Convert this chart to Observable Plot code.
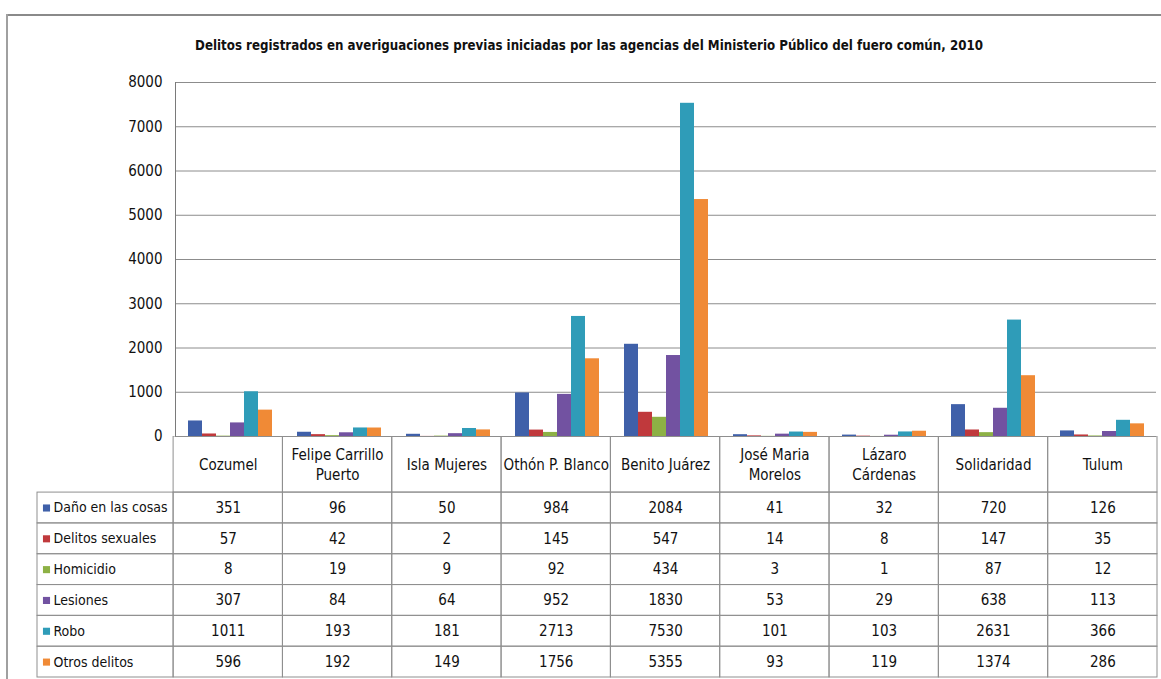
<!DOCTYPE html>
<html><head><meta charset="utf-8">
<script src="https://cdn.jsdelivr.net/npm/d3@7"></script>
<script src="https://cdn.jsdelivr.net/npm/@observablehq/plot@0.6"></script>
<style>
body{margin:0;background:#fff;}
#wrap{position:relative;width:1161px;height:679px;overflow:hidden;background:#fff;}
#frameTop{position:absolute;left:6px;top:14px;width:1155px;height:0;border-top:2px solid #8a8a8a;}
#frameLeft{position:absolute;left:6px;top:14px;width:0;height:665px;border-left:2px solid #a0a0a0;}
#title{position:absolute;left:0;top:0;}
#bars{position:absolute;left:0;top:60px;}
#table{position:absolute;left:0;top:436px;}
</style></head>
<body><div id="wrap">
<div id="frameTop"></div><div id="frameLeft"></div>
<svg id="title" width="1161" height="60"><text id="titleText" x="589" y="50" text-anchor="middle" font-family="'Liberation Sans Narrow','Arial Narrow','DejaVu Sans Condensed',sans-serif" font-weight="bold" font-size="19" fill="#111"></text></svg>
<div id="bars"></div><div id="table"></div>
</div>
<script>
const titleText = "Delitos registrados en averiguaciones previas iniciadas por las agencias del Ministerio Público del fuero común, 2010";
const categories = ["Cozumel","Felipe Carrillo Puerto","Isla Mujeres","Othón P. Blanco","Benito Juárez","José Maria Morelos","Lázaro Cárdenas","Solidaridad","Tulum"];
const categoryLabels = ["Cozumel","Felipe Carrillo\nPuerto","Isla Mujeres","Othón P. Blanco","Benito Juárez","José Maria\nMorelos","Lázaro\nCárdenas","Solidaridad","Tulum"];
const series = ["Daño en las cosas","Delitos sexuales","Homicidio","Lesiones","Robo","Otros delitos"];
const danoEnLasCosas = [351,96,50,984,2084,41,32,720,126];
const delitosSexuales = [57,42,2,145,547,14,8,147,35];
const homicidio = [8,19,9,92,434,3,1,87,12];
const lesiones = [307,84,64,952,1830,53,29,638,113];
const robo = [1011,193,181,2713,7530,101,103,2631,366];
const otrosDelitos = [596,192,149,1756,5355,93,119,1374,286];
const yTicks = [0,1000,2000,3000,4000,5000,6000,7000,8000];
const colors = ["#3f60a9","#c0393c","#8db145","#7252a1","#2f9cb8","#f08a36"];

// title: fit the font size so the line spans about 788px
const tEl = document.getElementById("titleText");
tEl.textContent = titleText;
const natural = tEl.getComputedTextLength();
if (natural > 0) tEl.setAttribute("font-size", (19 * 788 / natural).toFixed(2));

const FONT = "'Liberation Sans Narrow','Arial Narrow','DejaVu Sans Condensed',sans-serif";
const FS = 15;
const seriesValues = [danoEnLasCosas, delitosSexuales, homicidio, lesiones, robo, otrosDelitos];
const rows = [];
series.forEach((s, si) => seriesValues[si].forEach((v, ci) =>
  rows.push({category: categories[ci], series: s, value: v, ci, si})));

const colorScale = {domain: series, range: colors};

const bars = Plot.plot({
  width: 1161, height: 386,
  marginTop: 22, marginBottom: 10, marginLeft: 173, marginRight: 4,
  style: {fontFamily: FONT, fontSize: FS + "px", color: "#111", background: "transparent"},
  fx: {domain: categories, padding: 0, axis: null},
  x: {domain: series, paddingInner: 0, paddingOuter: 0.75, axis: null},
  y: {domain: [0, 8000], label: null},
  color: colorScale,
  marks: [
    Plot.ruleY(yTicks, {stroke: "#8c8c8c", strokeWidth: 1}),
    Plot.barY(rows, {fx: "category", x: "series", y: "value", fill: "series"}),
    Plot.axisY(yTicks, {tickSize: 0, tickPadding: 13, fontSize: FS, tickFormat: d3.format("d"), label: null}),
    Plot.frame({anchor: "left", facetAnchor: "left", stroke: "#7a7a7a"})
  ]
});
document.getElementById("bars").appendChild(bars);

// table drawn with Plot: x in category units, y in row units (layout constants)
const LABEL_COL = 1.245;   // width of the legend column, in category widths
const HEADER_ROW = 1.82;   // height of the header row, in row heights
const idx = c => categories.indexOf(c);
const sidx = s => series.indexOf(s);
const gridStroke = "#8f8f8f";

const table = Plot.plot({
  width: 1161, height: 242,
  marginTop: 0, marginBottom: 1, marginLeft: 37, marginRight: 4,
  style: {fontFamily: FONT, fontSize: FS + "px", color: "#111", background: "transparent"},
  x: {type: "linear", domain: [-LABEL_COL, categories.length], axis: null},
  y: {type: "linear", domain: [0, HEADER_ROW + series.length], reverse: true, axis: null},
  color: colorScale,
  marks: [
    Plot.rect(categories, {x1: d => idx(d), x2: d => idx(d) + 1, y1: () => 0, y2: () => HEADER_ROW, stroke: gridStroke, fill: "none"}),
    Plot.rect(rows, {x1: d => d.ci, x2: d => d.ci + 1, y1: d => HEADER_ROW + d.si, y2: d => HEADER_ROW + d.si + 1, stroke: gridStroke, fill: "none"}),
    Plot.rect(series, {x1: () => -LABEL_COL, x2: () => 0, y1: d => HEADER_ROW + sidx(d), y2: d => HEADER_ROW + sidx(d) + 1, stroke: gridStroke, fill: "none"}),
    Plot.text(categories, {x: d => idx(d) + 0.5, y: () => HEADER_ROW / 2, dy: -1, text: (d, i) => categoryLabels[i], lineHeight: 1.35, fontSize: FS, fill: "#111"}),
    Plot.text(rows, {x: d => d.ci + 0.5, y: d => HEADER_ROW + d.si + 0.5, text: d => String(d.value), fontSize: FS, fill: "#111"}),
    Plot.dot(series, {x: () => -LABEL_COL, y: d => HEADER_ROW + sidx(d) + 0.5, dx: 9, symbol: "square", r: 4, fill: d => d, stroke: null}),
    Plot.text(series, {x: () => -LABEL_COL, y: d => HEADER_ROW + sidx(d) + 0.5, dx: 16, textAnchor: "start", text: d => d, fontSize: 14, fill: "#111"})
  ]
});
document.getElementById("table").appendChild(table);
</script>
</body></html>
